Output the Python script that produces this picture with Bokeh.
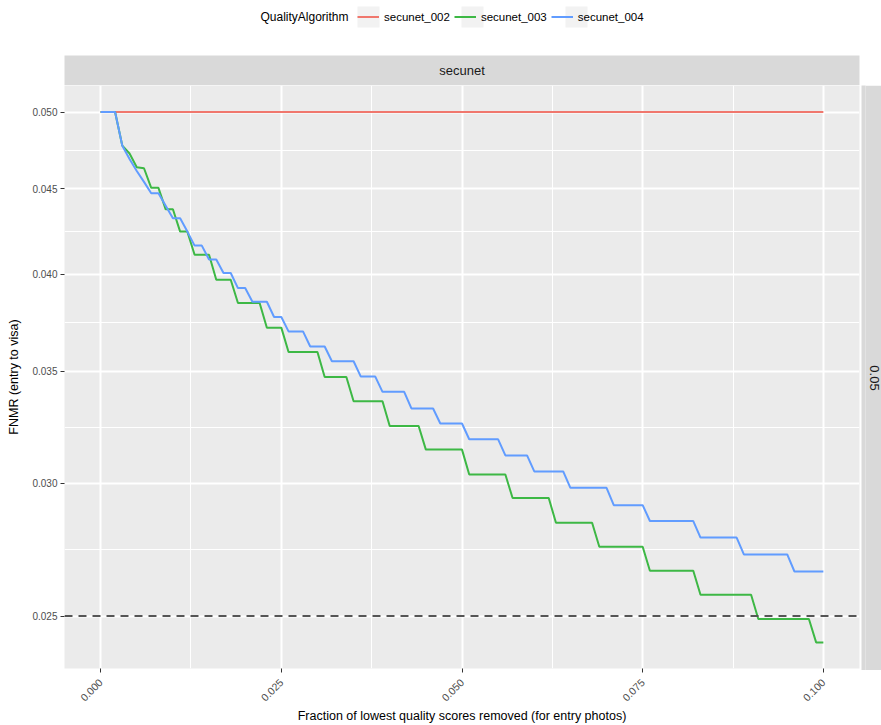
import math
from bokeh.plotting import figure
from bokeh.layouts import column, row
from bokeh.models import (FixedTicker, PrintfTickFormatter, Span, Label, Spacer,
                          Legend, LegendItem, ColumnDataSource, Range1d)
from bokeh.embed import file_html
from bokeh.resources import INLINE

# ---------------- data ----------------
algorithms = ["secunet_002", "secunet_003", "secunet_004"]
colors = ["#F0776D", "#3DB845", "#619CFF"]

fraction_002 = [0.000, 0.100]
fnmr_002 = [0.0500, 0.0500]

fraction_003 = [0.000, 0.002, 0.003, 0.004, 0.005, 0.006, 0.007, 0.008, 0.009, 0.010,
                0.011, 0.012, 0.013, 0.015, 0.016, 0.018, 0.019, 0.022, 0.023, 0.025,
                0.026, 0.030, 0.031, 0.034, 0.035, 0.039, 0.040, 0.044, 0.045, 0.050,
                0.051, 0.056, 0.057, 0.062, 0.063, 0.068, 0.069, 0.075, 0.076, 0.082,
                0.083, 0.090, 0.091, 0.098, 0.099, 0.100]
fnmr_003 = [0.05000, 0.05000, 0.04774, 0.04723, 0.04634, 0.04628, 0.04505, 0.04505, 0.04374, 0.04374,
            0.04242, 0.04242, 0.04109, 0.04109, 0.03970, 0.03970, 0.03845, 0.03845, 0.03717, 0.03717,
            0.03595, 0.03595, 0.03473, 0.03473, 0.03359, 0.03359, 0.03247, 0.03247, 0.03143, 0.03143,
            0.03037, 0.03037, 0.02941, 0.02941, 0.02842, 0.02842, 0.02750, 0.02750, 0.02661, 0.02661,
            0.02574, 0.02574, 0.02490, 0.02490, 0.02411, 0.02411]

fraction_004 = [0.000, 0.002, 0.003, 0.004, 0.005, 0.006, 0.007, 0.008, 0.009, 0.010,
                0.011, 0.012, 0.013, 0.014, 0.015, 0.016, 0.017, 0.018, 0.019, 0.020,
                0.021, 0.023, 0.024, 0.025, 0.026, 0.028, 0.029, 0.031, 0.032, 0.035,
                0.036, 0.038, 0.039, 0.042, 0.043, 0.046, 0.047, 0.050, 0.051, 0.055,
                0.056, 0.059, 0.060, 0.064, 0.065, 0.070, 0.071, 0.075, 0.076, 0.082,
                0.083, 0.088, 0.089, 0.095, 0.096, 0.100]
fnmr_004 = [0.05000, 0.05000, 0.04774, 0.04688, 0.04611, 0.04542, 0.04472, 0.04472, 0.04395, 0.04320,
            0.04320, 0.04242, 0.04161, 0.04161, 0.04082, 0.04082, 0.04007, 0.04007, 0.03925, 0.03925,
            0.03852, 0.03852, 0.03772, 0.03772, 0.03698, 0.03698, 0.03622, 0.03622, 0.03549, 0.03549,
            0.03475, 0.03475, 0.03403, 0.03403, 0.03326, 0.03326, 0.03258, 0.03258, 0.03188, 0.03188,
            0.03118, 0.03118, 0.03050, 0.03050, 0.02982, 0.02982, 0.02912, 0.02912, 0.02849, 0.02849,
            0.02785, 0.02785, 0.02721, 0.02721, 0.02658, 0.02658]

threshold_fnmr = 0.025
x_ticks = [0.000, 0.025, 0.050, 0.075, 0.100]
x_minor = [0.0125, 0.0375, 0.0625, 0.0875]
y_ticks = [0.025, 0.030, 0.035, 0.040, 0.045, 0.050]
y_minor = [math.sqrt(a * b) for a, b in zip(y_ticks[:-1], y_ticks[1:])]
facet_col = "secunet"
facet_row = "0.05"
legend_title = "QualityAlgorithm"

FONT = "Liberation Sans"
STRIP = "#D9D9D9"


def bare(fig, bg="white"):
    fig.xaxis.visible = False
    fig.yaxis.visible = False
    fig.xgrid.visible = False
    fig.ygrid.visible = False
    fig.outline_line_color = None
    fig.background_fill_color = bg
    fig.border_fill_color = bg
    fig.min_border = 0


# ---------------- header: legend + column strip ----------------
head = figure(width=881, height=85, output_backend="svg", toolbar_location=None,
              x_range=Range1d(0, 881), y_range=Range1d(85, 0))
bare(head)
head.quad(left=[64], right=[859], top=[55], bottom=[85], fill_color=STRIP, line_color=None)
head.add_layout(Label(x=461.5, y=70, text=facet_col, text_align="center",
                      text_baseline="middle", text_font=FONT, text_font_size="13px",
                      text_color="#1A1A1A"))
head.quad(left=[357, 461, 565], right=[379, 483, 587], top=[6, 6, 6], bottom=[27, 27, 27],
          fill_color="#F2F2F2", line_color=None)
head.add_layout(Label(x=260, y=16.5, text=legend_title, text_align="left",
                      text_baseline="middle", text_font=FONT, text_font_size="12px",
                      text_color="black"))
nan = float("nan")
key_renderers = [head.line(x=[nan], y=[nan], line_color=c, line_width=2) for c in colors]
legend = Legend(items=[LegendItem(label=a, renderers=[r]) for a, r in zip(algorithms, key_renderers)],
                orientation="horizontal", location=(357, 85 - 27),
                glyph_width=22, glyph_height=21, label_standoff=5, spacing=4,
                padding=0, margin=0, background_fill_alpha=0, border_line_alpha=0,
                label_text_font=FONT, label_text_font_size="11.5px", label_text_color="black",
                label_height=21)
head.add_layout(legend, "center")

# ---------------- main panel ----------------
p = figure(width=861, height=640, output_backend="svg", toolbar_location=None,
           y_axis_type="log",
           x_range=Range1d(-0.005, 0.105), y_range=Range1d(0.02326, 0.05186),
           min_border_left=64, min_border_right=2, min_border_top=0, min_border_bottom=55)
p.background_fill_color = "#EBEBEB"
p.border_fill_color = "white"
p.outline_line_color = None

for ax in (p.xaxis[0], p.yaxis[0]):
    ax.axis_line_color = None
    ax.major_tick_line_color = "#333333"
    ax.major_tick_line_width = 1
    ax.major_tick_out = 4
    ax.major_tick_in = 0
    ax.minor_tick_out = 0
    ax.minor_tick_in = 0
    ax.major_label_text_font = FONT
    ax.major_label_text_font_size = "10px"
    ax.major_label_text_color = "#4D4D4D"
    ax.axis_label_text_font = FONT
    ax.axis_label_text_font_size = "12.5px"
    ax.axis_label_text_font_style = "normal"
    ax.axis_label_text_color = "black"
    ax.formatter = PrintfTickFormatter(format="%.3f")

p.xaxis.ticker = FixedTicker(ticks=x_ticks, minor_ticks=x_minor)
p.yaxis.ticker = FixedTicker(ticks=y_ticks, minor_ticks=y_minor)
p.xaxis.major_label_orientation = math.pi / 4
p.xaxis.major_label_text_font_size = "10.5px"
p.xaxis.axis_label = "Fraction of lowest quality scores removed (for entry photos)"
p.yaxis.axis_label = "FNMR (entry to visa)"
p.yaxis.major_label_standoff = 3
p.yaxis.axis_label_standoff = 8
p.xaxis.major_label_standoff = 8
p.xaxis.axis_label_standoff = 1

for g in (p.xgrid[0], p.ygrid[0]):
    g.grid_line_color = "white"
    g.grid_line_width = 2
    g.minor_grid_line_color = "white"
    g.minor_grid_line_width = 1

for xs, ys, c in zip([fraction_002, fraction_003, fraction_004],
                     [fnmr_002, fnmr_003, fnmr_004], colors):
    src = ColumnDataSource(dict(x=xs, y=ys))
    p.line("x", "y", source=src, line_color=c, line_width=2)

p.add_layout(Span(location=threshold_fnmr, dimension="width", line_color="#555555",
                  line_dash="8 6", line_width=2))

# ---------------- right row strip (its label is a right-hand axis title) ----------------
side = figure(width=20, height=585, output_backend="svg", toolbar_location=None,
              x_range=Range1d(0, 1), y_range=Range1d(0, 1), y_axis_location="right")
side.xaxis.visible = False
side.xgrid.visible = False
side.ygrid.visible = False
side.outline_line_color = None
side.background_fill_color = STRIP
side.border_fill_color = STRIP
side.min_border = 0
sax = side.yaxis[0]
sax.ticker = FixedTicker(ticks=[])
sax.axis_line_color = None
sax.major_tick_line_color = None
sax.minor_tick_line_color = None
sax.major_tick_out = 0
sax.major_tick_in = 0
sax.major_label_standoff = 0
sax.axis_label = facet_row
sax.axis_label_standoff = 4
sax.axis_label_text_font = FONT
sax.axis_label_text_font_size = "13px"
sax.axis_label_text_font_style = "normal"
sax.axis_label_text_color = "#1A1A1A"

layout = column(head, row(p, column(side, Spacer(width=20, height=55), spacing=0), spacing=0),
                spacing=0)
open("out.html", "w").write(file_html(layout, INLINE))
